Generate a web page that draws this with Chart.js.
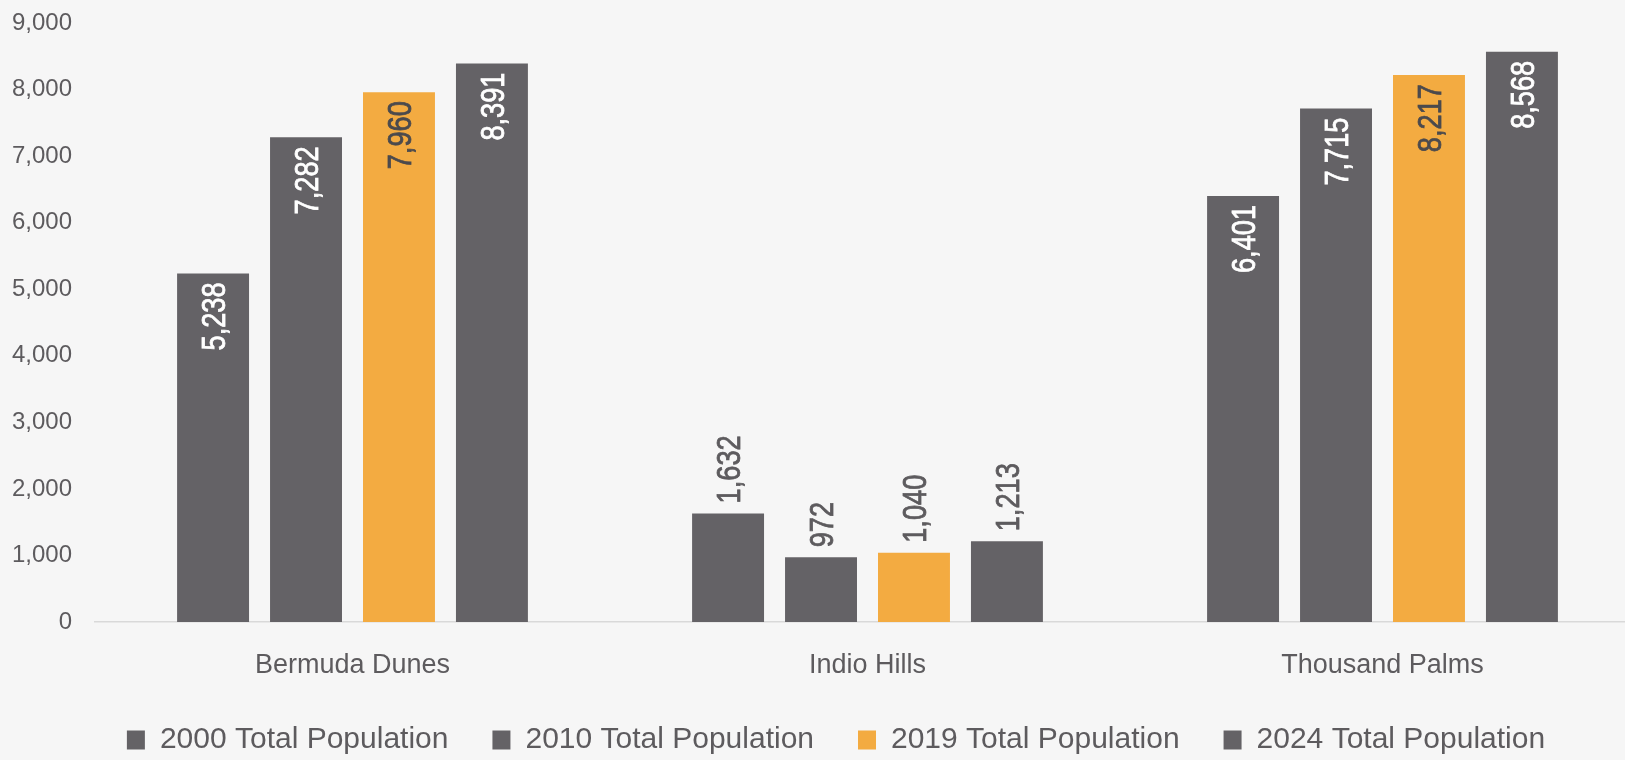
<!DOCTYPE html>
<html>
<head>
<meta charset="utf-8">
<script src="https://cdn.jsdelivr.net/npm/chart.js@4.4.1/dist/chart.umd.min.js"></script>
<style>
  html, body { margin: 0; padding: 0; background: #f6f6f6; overflow: hidden; }
  canvas { display: block; }
</style>
</head>
<body>
<canvas id="myChart" width="1640" height="760"></canvas>
<script>
const categories = ["Bermuda Dunes", "Indio Hills", "Thousand Palms"];
const seriesNames = ["2000 Total Population", "2010 Total Population", "2019 Total Population", "2024 Total Population"];
const pop2000 = [5238, 1632, 6401];
const pop2010 = [7282, 972, 7715];
const pop2019 = [7960, 1040, 8217];
const pop2024 = [8391, 1213, 8568];
const yMax = 9000;
const yStep = 1000;

const grey = "#646266";
const orange = "#f3ab41";
const textGrey = "#5d5b5e";

// rotated value labels, inside the top of tall bars, above short ones
const barLabels = {
  id: "barLabels",
  afterLayout(chart) {
    // legend sits a bit right of the canvas centre in the original
    chart.legend.left += 16;
    chart.legend.right += 16;
  },
  afterDatasetsDraw(chart) {
    const ctx = chart.ctx;
    chart.data.datasets.forEach((ds, i) => {
      const meta = chart.getDatasetMeta(i);
      meta.data.forEach((bar, j) => {
        const txt = ds.data[j].toLocaleString("en-US");
        const inside = bar.base - bar.y > 150;
        ctx.save();
        ctx.translate(bar.x, inside ? bar.y + 9 : bar.y - 10);
        ctx.rotate(-Math.PI / 2);
        ctx.scale(0.8, 1);
        ctx.font = '34px "Liberation Sans", Arial, sans-serif';
        ctx.textBaseline = "alphabetic";
        ctx.textAlign = inside ? "right" : "left";
        ctx.fillStyle = inside ? ds.labelColor : textGrey;
        ctx.strokeStyle = ctx.fillStyle;
        ctx.lineWidth = 0.8;
        ctx.fillText(txt, 0, 12);
        ctx.strokeText(txt, 0, 12);
        ctx.restore();
      });
    });
  }
};

function makeSet(name, data, color, labelColor) {
  return {
    label: name,
    data: data,
    backgroundColor: color,
    borderWidth: 0,
    labelColor: labelColor,
    categoryPercentage: 0.722,
    barPercentage: 0.774
  };
}

new Chart("myChart", {
  type: "bar",
  data: {
    labels: categories,
    datasets: [
      makeSet(seriesNames[0], pop2000, grey, "#ffffff"),
      makeSet(seriesNames[1], pop2010, grey, "#ffffff"),
      makeSet(seriesNames[2], pop2019, orange, "#4b4a4d"),
      makeSet(seriesNames[3], pop2024, grey, "#ffffff")
    ]
  },
  options: {
    responsive: false,
    devicePixelRatio: 1,
    animation: false,
    layout: { padding: { left: 0, right: 0, top: 23, bottom: -5 } },
    plugins: {
      tooltip: { enabled: false },
      legend: {
        position: "bottom",
        labels: {
          boxWidth: 18,
          boxHeight: 19,
          padding: 44,
          color: textGrey,
          font: { family: '"Liberation Sans", Arial, sans-serif', size: 30 }
        }
      }
    },
    scales: {
      x: {
        grid: { display: false, drawTicks: false },
        border: { display: true, color: "#d9d9d9", width: 1.5 },
        afterFit: function(scale) { scale.height = 59; },
        ticks: {
          padding: 27,
          color: textGrey,
          font: { family: '"Liberation Sans", Arial, sans-serif', size: 27 }
        }
      },
      y: {
        min: 0,
        max: yMax,
        grid: { display: false, drawTicks: false },
        border: { display: false },
        afterFit: function(scale) {
          scale.width = 95;
          scale.paddingTop = 0;
          scale.paddingBottom = 0;
        },
        ticks: {
          stepSize: yStep,
          padding: 23,
          color: textGrey,
          font: { family: '"Liberation Sans", Arial, sans-serif', size: 24 },
          callback: function(v) { return v.toLocaleString("en-US"); }
        }
      }
    }
  },
  plugins: [barLabels]
});
</script>
</body>
</html>
